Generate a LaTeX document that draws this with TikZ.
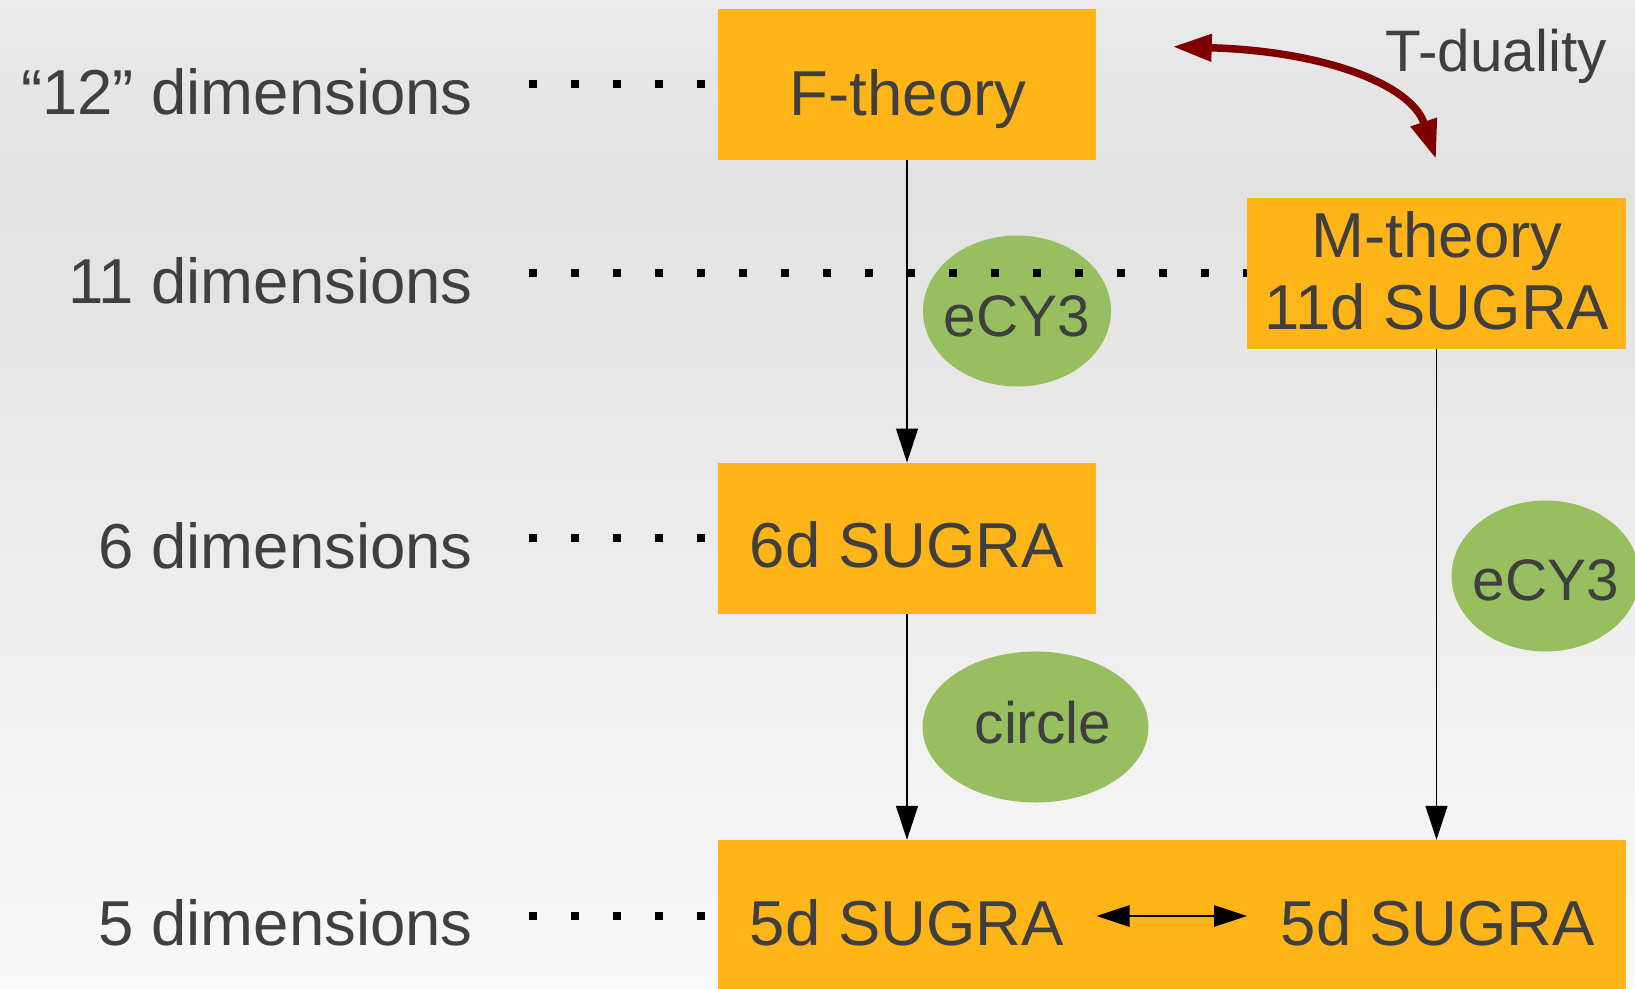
\documentclass[tikz,border=0pt]{standalone}
\usepackage{fontspec}
\setmainfont{Liberation Sans}
\usetikzlibrary{shapes.geometric,arrows.meta}
\definecolor{boxorange}{HTML}{FFB518}
\definecolor{ellgreen}{HTML}{97BE5F}
\definecolor{txtgray}{HTML}{3F3F3F}
\definecolor{tdred}{HTML}{800000}
\definecolor{bgtop}{HTML}{EAEAEA}
\definecolor{bgmid}{HTML}{E1E1E1}
\definecolor{bgbot}{HTML}{F8F8F8}
\begin{document}
\begin{tikzpicture}[x=1pt,y=-1pt,
  box/.style={rectangle, fill=boxorange, draw=none, inner sep=0pt},
  ell/.style={ellipse, fill=ellgreen, draw=none, inner sep=0pt, minimum width=188pt, minimum height=151pt},
  bigtxt/.style={text=txtgray, font=\fontsize{63.5}{70}\selectfont, inner sep=0pt, anchor=base},
  midtxt/.style={text=txtgray, font=\fontsize{58.5}{64}\selectfont, inner sep=0pt, anchor=base},
  dotline/.style={line width=8pt, dash pattern=on 8pt off 34pt, draw=black},
  conn/.style={line width=1.2pt, draw=black, -{Triangle[length=34pt,width=22pt]}},
  darr/.style={line width=1.2pt, draw=black, {Triangle[length=33pt,width=21.5pt]}-{Triangle[length=33pt,width=21.5pt]}},
  tdarr/.style={line width=7.5pt, draw=tdred, {Triangle[length=39pt,width=26pt]}-{Triangle[length=39pt,width=26pt]}}
]
\useasboundingbox (0,0) rectangle (1635,988);
\clip (0,0) rectangle (1635,988);
% background
\shade[top color=bgtop, bottom color=bgmid] (0,0) rectangle (1635,181);
\shade[top color=bgmid, bottom color=bgbot] (0,180) rectangle (1635,988);

% ellipses
\node[ell] (E1) at (1017,311) {};
\node[ell] (E2) at (1545.5,576) {};
\node[ell, minimum width=226pt] (C) at (1035.5,727) {};

% level labels
\node[bigtxt, anchor=base east] (L12) at (473,114) {“12” dimensions};
\node[bigtxt, anchor=base east] (L11) at (473,303.3) {11 dimensions};
\node[bigtxt, anchor=base east] (L6) at (473,568.3) {6 dimensions};
\node[bigtxt, anchor=base east] (L5) at (473,945.7) {5 dimensions};

% boxes (positions)
\node[box, minimum width=378pt, minimum height=150.5pt] (F) at (907,84.3) {};
\node[box, minimum width=379pt, minimum height=150.4pt] (M) at (1436.5,273.5) {};
\node[box, minimum width=378pt, minimum height=150.6pt] (S6) at (907,538) {};
\node[box, minimum width=908pt, minimum height=160pt] (B5) at (1172,920) {};

% dotted guide lines (drawn over ellipses, under boxes)
\path ([xshift=56pt,yshift=30pt]L12.base east) coordinate (d1);
\path ([xshift=56pt,yshift=30pt]L11.base east) coordinate (d2);
\path ([xshift=56pt,yshift=30pt]L6.base east) coordinate (d3);
\path ([xshift=56pt,yshift=30pt]L5.base east) coordinate (d4);
\draw[dotline, shorten >=12pt] (d1) -- (d1 -| F.west);
\draw[dotline, shorten >=-5pt] (d2) -- (d2 -| M.west);
\draw[dotline, shorten >=12pt] (d3) -- (d3 -| S6.west);
\draw[dotline, shorten >=12pt] (d4) -- (d4 -| B5.west);

% redraw boxes on top of dots
\fill[boxorange] (F.south west) rectangle (F.north east);
\fill[boxorange] (M.south west) rectangle (M.north east);
\fill[boxorange] (S6.south west) rectangle (S6.north east);
\fill[boxorange] (B5.south west) rectangle (B5.north east);

% texts
\node[bigtxt] (tF) at (908,115) {F-theory};
\node[bigtxt] (tM1) at (1437,257.7) {M-theory};
\node[bigtxt] (tM2) at (1437,329.3) {11d SUGRA};
\node[bigtxt] (t6) at (907,567.7) {6d SUGRA};
\node[bigtxt] (t5l) at (907,945) {5d SUGRA};
\node[bigtxt] (t5r) at (1438,945) {5d SUGRA};
\node[midtxt] (te1) at (1017,336) {eCY3};
\node[midtxt] (te2) at (1546,600) {eCY3};
\node[midtxt] (tc) at (1043,743.3) {circle};
\node[midtxt] (tT) at (1496,71.7) {T-duality};

% connectors
\draw[conn] (F.south) -- (S6.north);
\draw[conn] (S6.south) -- (S6.south |- B5.north);
\draw[conn] (M.south) -- (M.south |- B5.north);
\coordinate (hl) at (1096.5,916);
\coordinate (hr) at (1247,916);
\draw[darr] (hl) -- (hr);
\coordinate (tdl) at (1172.7,46.7);
\coordinate (tdr) at (1436,159);
\draw[tdarr] (tdl) .. controls (1322.7,50.9) and (1411,84) .. (tdr);
\end{tikzpicture}
\end{document}
